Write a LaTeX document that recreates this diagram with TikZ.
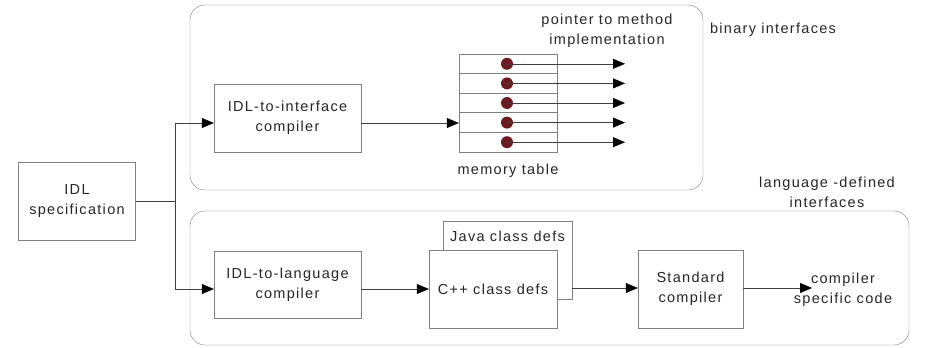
\documentclass[tikz,border=0pt]{standalone}
\usepackage{fontspec}
\setmainfont[LetterSpace=9]{Liberation Sans}
\usetikzlibrary{positioning,arrows.meta}
\definecolor{dotred}{RGB}{108,28,30}
\begin{document}
\begin{tikzpicture}[x=1pt, y=-1pt,
    every node/.style={font=\fontsize{14.5}{20}\selectfont, text=black!85},
    box/.style={draw=black!50, fill=white, align=center},
    ptr/.style={black!75, -{Triangle[length=12pt, width=10pt, color=black]}},
    blob/.style={circle, fill=dotred, inner sep=0pt, minimum size=12pt}]
\useasboundingbox (0,0) rectangle (937,348);
\draw[black!50, rounded corners=15pt] (190,5) rectangle (703,190);
\draw[black!50, rounded corners=15pt] (190,211) rectangle (909,345);

\node[box, minimum width=117pt, minimum height=78pt] (idl) at (77,201) {IDL\\specification};
\node[box, minimum width=147pt, minimum height=68pt] (ifc) at (287.5,118) {IDL-to-interface\\compiler};
\node[box, minimum width=147pt, minimum height=67pt] (lang) at (287.5,284.5) {IDL-to-language\\compiler};
\node[draw=black!50, minimum width=98pt, minimum height=98pt, inner sep=0pt] (mem) at (508,103) {};
\node[box, minimum width=129pt, minimum height=78pt, label={[anchor=north, yshift=-7pt]north:Java class defs}] (java) at (507.5,260) {};
\node[box, minimum width=128pt, minimum height=78pt] (cpp) at (493,289) {C++ class defs};
\node[box, minimum width=105pt, minimum height=78pt] (std) at (690.5,289) {Standard\\compiler};
\node[align=center] (out) at (843,290) {compiler\\specific code};
\coordinate (tip) at (812,288);

\node[align=center] (ptrlbl) at (607,31) {pointer to method\\implementation};
\node[below=8pt of mem] (memlbl) {memory table};
\node (binlbl) at (773,30) {binary interfaces};
\node[align=center] (langlbl) at (827,192) {language -defined\\interfaces};

% memory table rows
\foreach \i in {1,...,5} {
    \draw[black!50] ([yshift=-19.6*\i pt]mem.north west) -- ([yshift=-19.6*\i pt]mem.north east);
    \node[blob] (d\i) at (507,44.2+19.6*\i) {};
    \coordinate (p\i) at (625,44.2+19.6*\i);
    \draw[ptr] (d\i.center) -- (p\i);
}

\draw[black!75] (idl.east) -- ++(39,0) coordinate (j);
\draw[ptr] (j) |- ([yshift=-5pt]ifc.west);
\draw[ptr] (j) |- ([yshift=-4.5pt]lang.west);
\draw[ptr] ([yshift=-5pt]ifc.east) -- (mem.west |- 0,123);
\draw[ptr] ([yshift=-4.5pt]lang.east) -- (cpp.west |- 0,289);
\draw[ptr] (java.east |- 0,288) -- (std.west |- 0,288);
\draw[ptr] (std.east |- 0,288) -- (tip);
\end{tikzpicture}
\end{document}
